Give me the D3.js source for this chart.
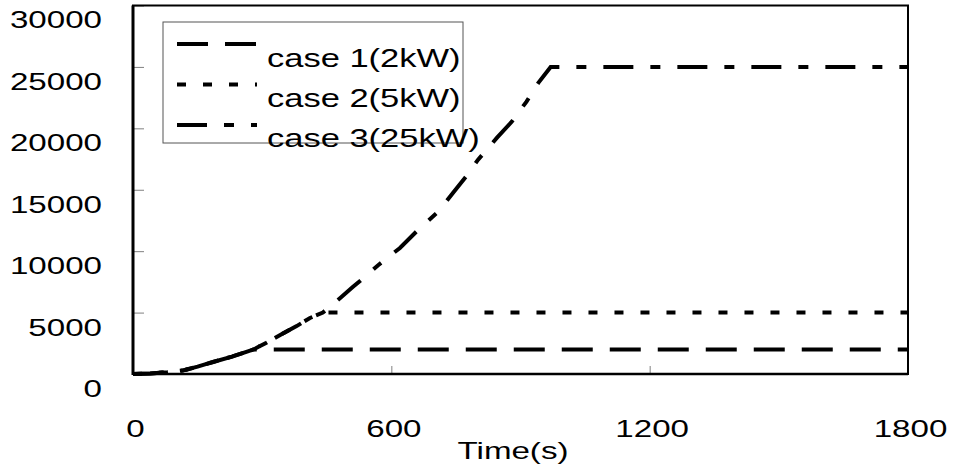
<!DOCTYPE html>
<html>
<head>
<meta charset="utf-8">
<script src="https://cdn.jsdelivr.net/npm/d3@7"></script>
<style>
  body { margin: 0; background: #fff; }
  text { font-family: "Liberation Sans", Arial, sans-serif; fill: #000; }
</style>
</head>
<body>
<svg id="chart" width="955" height="471"></svg>
<script>
// values
const seriesNames = ["case 1(2kW)", "case 2(5kW)", "case 3(25kW)"];

const case1Time = [0, 40, 80, 115, 150, 186, 230, 265, 280, 1800];
const case1Value = [0, 40, 150, 280, 600, 980, 1420, 1820, 2000, 2000];

const case2Time = [0, 40, 80, 115, 150, 186, 230, 265, 280, 310, 346, 380, 411, 441, 1800];
const case2Value = [0, 40, 150, 280, 600, 980, 1420, 1820, 2000, 2550, 3260, 3900, 4560, 5000, 5000];

const case3Time = [0, 40, 80, 115, 150, 186, 230, 265, 280, 310, 346, 380, 411, 441, 480, 511, 540, 570,
    620, 662, 708, 743, 775, 801, 845, 880, 914, 941, 970, 1800];
const case3Value = [0, 40, 150, 280, 600, 980, 1420, 1820, 2000, 2550, 3260, 3900, 4560, 5000, 6150, 7100, 7950, 8880,
    10260, 11730, 13190, 14740, 16140, 17430, 19220, 20550, 22180, 23680, 25000, 25000];

const xTicks = [0, 600, 1200, 1800];
const yTicks = [0, 5000, 10000, 15000, 20000, 25000, 30000];
const xTitle = "Time(s)";

var plotLeft = 133, plotRight = 908, plotTop = 5.5, plotBottom = 374,
    stretch = 1.38; // the text in the picture is drawn wide

var svg = d3.select("#chart");

var x = d3.scaleLinear().domain([0, 1800]).range([plotLeft, plotRight]);
var y = d3.scaleLinear().domain([0, 30000]).range([plotBottom, plotTop]);

//y axis, ticks pointing inwards
var yAxis = svg.append("g")
    .attr("transform", "translate(" + plotLeft + ",0)")
    .call(d3.axisLeft(y).tickValues(yTicks).tickSize(-11).tickFormat(d3.format("d")));
yAxis.select(".domain").remove();
yAxis.selectAll("line").attr("stroke", "#808080");
yAxis.selectAll("text")
    .attr("x", -31 / stretch)
    .attr("y", 22.5)
    .attr("dy", null)
    .attr("transform", "scale(" + stretch + ",1)")
    .style("font-size", "24px");
yAxis.attr("font-family", null).attr("font-size", null);

//x axis
var xAxis = svg.append("g")
    .attr("transform", "translate(0," + plotBottom + ")")
    .call(d3.axisBottom(x).tickValues(xTicks).tickSize(-8).tickFormat(d3.format("d")));
xAxis.select(".domain").remove();
xAxis.selectAll("line").attr("stroke", "#808080");
xAxis.selectAll("text")
    .attr("x", 2 / stretch)
    .attr("y", 63)
    .attr("dy", null)
    .attr("transform", "scale(" + stretch + ",1)")
    .style("font-size", "24px");
xAxis.attr("font-family", null).attr("font-size", null);

svg.append("text")
    .attr("transform", "translate(513,459) scale(" + stretch + ",1)")
    .attr("text-anchor", "middle")
    .style("font-size", "24px")
    .text(xTitle);

//frame
svg.append("rect")
    .attr("x", plotLeft).attr("y", plotTop)
    .attr("width", plotRight - plotLeft).attr("height", plotBottom - plotTop)
    .attr("fill", "none").attr("stroke", "#000").attr("stroke-width", 2);
svg.append("line")
    .attr("x1", plotLeft).attr("x2", plotLeft).attr("y1", plotTop).attr("y2", plotBottom + 1)
    .attr("stroke", "#000").attr("stroke-width", 3);
svg.append("line")
    .attr("x1", plotLeft).attr("x2", plotRight).attr("y1", plotBottom).attr("y2", plotBottom)
    .attr("stroke", "#000").attr("stroke-width", 2.5);

//series
var series = [
    { name: seriesNames[2], t: case3Time, v: case3Value, dash: "30,17,10,17" },
    { name: seriesNames[1], t: case2Time, v: case2Value, dash: "9,17" },
    { name: seriesNames[0], t: case1Time, v: case1Value, dash: "31,17" }
];

var line = d3.line()
    .x(function(d) { return x(d[0]); })
    .y(function(d) { return y(d[1]); });

svg.selectAll(".series")
    .data(series)
    .enter().append("path")
    .attr("class", "series")
    .attr("d", function(s) { return line(d3.zip(s.t, s.v)); })
    .attr("fill", "none")
    .attr("stroke", "#000")
    .attr("stroke-width", 4)
    .attr("stroke-dasharray", function(s) { return s.dash; });

//legend
var legend = svg.append("g");
legend.append("rect")
    .attr("x", 163).attr("y", 22).attr("width", 300).attr("height", 121)
    .attr("fill", "none").attr("stroke", "#555").attr("stroke-width", 1);

var legendItems = series.slice().reverse();
legend.selectAll(".key")
    .data(legendItems)
    .enter().append("line")
    .attr("class", "key")
    .attr("x1", 177).attr("x2", 257)
    .attr("y1", function(d, i) { return 44 + i * 40.5; })
    .attr("y2", function(d, i) { return 44 + i * 40.5; })
    .attr("stroke", "#000")
    .attr("stroke-width", 4)
    .attr("stroke-dasharray", function(d) { return d.dash; });

legend.selectAll(".label")
    .data(legendItems)
    .enter().append("text")
    .attr("class", "label")
    .attr("transform", function(d, i) { return "translate(267," + (66.5 + i * 40) + ") scale(" + stretch + ",1)"; })
    .style("font-size", "25px")
    .text(function(d) { return d.name; });
</script>
</body>
</html>
